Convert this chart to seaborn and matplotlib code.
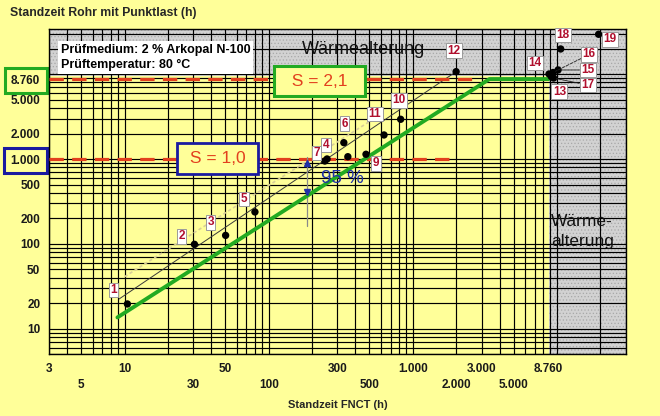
import numpy as np
import pandas as pd
import matplotlib
matplotlib.use("Agg")
import matplotlib.pyplot as plt
import seaborn as sns
from matplotlib.ticker import LogLocator, NullFormatter

# ---------------- data ----------------
point_ids = [str(i) for i in range(1, 20)]
fnct_h = [10.45, 30.5, 50.2, 254, 80.2, 332, 245, 354, 473, 823, 631, 1997,
          9150, 8810, 10180, 9400, 9480, 10620, 19460]
rohr_h = [19.6, 98.9, 126, 1002, 238, 1560, 948, 1066, 1138, 2942, 1922, 10710,
          9350, 10050, 11210, 10470, 9010, 19820, 29530]
label_shown = [True, True, True, True, True, True, True, False, True, True, True, True,
               True, True, True, True, True, True, True]

green_x = [8.91, 3400, 8760]
green_y = [13.6, 8760, 8760]
reg_x = [9.14, 1997]
reg_y = [22.4, 10710]
pale_x = [10.0, 494]
pale_y = [41.1, 2730]
s10_x = [3, 1885]
s10_y = [1000, 1000]
s21_x = [3, 2900]
s21_y = [8760, 8760]
ci_x = [185, 185]
ci_y = [163, 1066]

x_ticks = [3, 5, 10, 30, 50, 100, 300, 500, 1000, 2000, 3000, 5000, 8760]
x_ticklabels = ["3", "5", "10", "30", "50", "100", "300", "500",
                "1.000", "2.000", "3.000", "5.000", "8.760"]
x_row = [0, 1, 0, 1, 0, 1, 0, 1, 0, 1, 0, 1, 0]
y_ticks = [10, 20, 50, 100, 200, 500, 1000, 2000, 5000, 8760]
y_ticklabels = ["10", "20", "50", "100", "200", "500", "1.000", "2.000", "5.000", "8.760"]

x_min, x_max = 3, 30000
y_min, y_max = 5, 33800
aging_h = 8760
aging_top = 9600

# label offsets (px) of the number boxes relative to their dots
label_off = {"1": (-14, 14), "2": (-13, 8), "3": (-15, 13), "4": (-1, 14), "5": (-11, 13),
             "6": (1, 19), "7": (-8, 8), "9": (10, -9), "10": (-2, 19), "11": (-9, 21),
             "12": (-2, 21), "13": (8, -15), "14": (-14, 11), "15": (30, 0), "16": (36, 18),
             "17": (34, -7), "18": (2, 14), "19": (11, -5)}
leader = {"15": "-", "16": "--", "17": "-"}

# ---------------- style ----------------
sns.set_style("white")
plt.rcParams['font.family'] = ['Liberation Sans', 'DejaVu Sans']
plt.rcParams['hatch.linewidth'] = 0.5

YELLOW = '#FFFF99'
GREEN = '#22AA22'
RED = '#E2401E'
BLUE = '#2030A8'
NUMRED = '#B0102E'
GRAY = '#d2d2d2'
HATCH = '#a8a8a8'

fig = plt.figure(figsize=(6.6, 4.16), dpi=100, facecolor=YELLOW)
ax = fig.add_axes([0.0747, 0.1483, 0.8733, 0.78125])
ax.set_facecolor(YELLOW)
ax.set_xscale('log')
ax.set_yscale('log')
ax.set_xlim(x_min, x_max)
ax.set_ylim(y_min, y_max)

# gray "Wärmealterung" regions
ax.axvspan(aging_h, x_max, facecolor=GRAY, edgecolor=HATCH, hatch='.....',
           linewidth=0, zorder=0.5)
ax.fill_between([x_min, aging_h], aging_top, y_max, facecolor=GRAY,
                edgecolor=HATCH, hatch='.....', linewidth=0, zorder=0.5)

# grid
loc = dict(base=10, subs=np.arange(1, 10), numticks=100)
ax.set_xticks(x_ticks, x_ticklabels)
ax.set_yticks(y_ticks, y_ticklabels)
ax.xaxis.set_minor_locator(LogLocator(**loc))
ax.yaxis.set_minor_locator(LogLocator(**loc))
ax.xaxis.set_minor_formatter(NullFormatter())
ax.yaxis.set_minor_formatter(NullFormatter())
ax.xaxis.remove_overlapping_locs = False
ax.yaxis.remove_overlapping_locs = False
ax.grid(which='minor', color='black', linewidth=0.85, zorder=1)
ax.grid(which='major', visible=False)

ax.tick_params(which='both', length=0)
ax.tick_params(axis='both', which='major', labelsize=8.5, labelcolor='#1a1a1a')
for lab in ax.get_xticklabels() + ax.get_yticklabels():
    lab.set_fontweight('bold')
ax.tick_params(axis='y', which='major', pad=6.5)
for t, row in zip(ax.xaxis.get_major_ticks(), x_row):
    t.set_pad(6.5 + 11.5 * row)
for lab, val in zip(ax.get_yticklabels(), y_ticks):
    if val == 8760:
        lab.set_bbox(dict(boxstyle='square,pad=0.55', fc=YELLOW, ec=GREEN, lw=2.2))
    elif val == 1000:
        lab.set_bbox(dict(boxstyle='square,pad=0.55', fc=YELLOW, ec='#1a1aa0', lw=2.2))

for sp in ax.spines.values():
    sp.set_color('black')
    sp.set_linewidth(1.0)

# lines
sns.lineplot(x=pale_x, y=pale_y, ax=ax, color='#d9cf98', lw=1.2, linestyle=(0, (2, 1.5)),
             sort=False, estimator=None, zorder=2)
sns.lineplot(x=reg_x, y=reg_y, ax=ax, color='#3a3a3a', lw=0.7, sort=False,
             estimator=None, zorder=2.5)
sns.lineplot(x=s10_x, y=s10_y, ax=ax, color=RED, lw=2.3, linestyle=(0, (4.5, 2.6)),
             sort=False, estimator=None, zorder=3)
sns.lineplot(x=s21_x, y=s21_y, ax=ax, color=RED, lw=2.3, linestyle=(0, (4.5, 2.6)),
             sort=False, estimator=None, zorder=3)
sns.lineplot(x=green_x, y=green_y, ax=ax, color=GREEN, lw=2.8, sort=False,
             estimator=None, zorder=4)

# 95 % bracket
sns.lineplot(x=ci_x, y=ci_y, ax=ax, color='#8a8a8a', lw=0.9, sort=False,
             estimator=None, zorder=3.5)
ax.plot([ci_x[0]], [891], marker='^', color=BLUE, ms=4.5, zorder=5)
ax.plot([ci_x[0]], [412], marker='v', color=BLUE, ms=4.5, zorder=5)
ax.text(323, 593, "95 %", color=BLUE, fontsize=13.5, ha='center', va='center', zorder=6)

# points
df = pd.DataFrame({"id": point_ids, "fnct": fnct_h, "rohr": rohr_h, "show": label_shown})
sns.scatterplot(data=df, x="fnct", y="rohr", ax=ax, color='black', s=28,
                edgecolor='none', zorder=7, legend=False)
for pid, xv, yv, show in zip(point_ids, fnct_h, rohr_h, label_shown):
    if not show:
        continue
    dx, dy = label_off[pid]
    kw = {}
    if pid in leader:
        kw['arrowprops'] = dict(arrowstyle='-', color='#222222', lw=0.6,
                                linestyle=leader[pid], shrinkA=0, shrinkB=2)
    ax.annotate(pid, xy=(xv, yv), xytext=(dx * 0.72, dy * 0.72), textcoords='offset points',
                ha='center', va='center', fontsize=8.5, fontweight='bold', color=NUMRED,
                bbox=dict(boxstyle='square,pad=0.12', fc='white', ec='#9a9a9a', lw=0.7),
                zorder=8, **kw)

# boxes with S values
ax.text(225, 8300, "  S = 2,1  ", color=RED, fontsize=12.5, ha='center', va='center',
        bbox=dict(boxstyle='square,pad=0.45', fc=YELLOW, ec=GREEN, lw=2.2), zorder=9)
ax.text(44, 1014, " S = 1,0 ", color=RED, fontsize=12.5, ha='center', va='center',
        bbox=dict(boxstyle='square,pad=0.45', fc=YELLOW, ec='#1a1aa0', lw=2.0), zorder=9)

# region texts
ax.text(457, 19300, "Wärmealterung", fontsize=13, ha='center', va='center',
        color='#111111', zorder=6)
ax.text(9100, 140, "Wärme-\nalterung", fontsize=12.5, ha='left', va='center',
        color='#111111', linespacing=1.4, zorder=6)

# info box
ax.text(0.0198, 0.9137, "Prüfmedium: 2 % Arkopal N-100\nPrüftemperatur: 80 °C",
        transform=ax.transAxes, fontsize=9, fontweight='bold', ha='left', va='center',
        linespacing=1.3, color='black',
        bbox=dict(boxstyle='square,pad=0.25', fc='white', ec='none'), zorder=9)

ax.set_xlabel("Standzeit FNCT (h)", fontsize=8, fontweight='bold', labelpad=6)
ax.set_ylabel("")
fig.text(10 / 660, 1 - 13.3 / 416, "Standzeit Rohr mit Punktlast (h)", fontsize=8.8,
         fontweight='bold', ha='left', va='center')

fig.savefig("out.png", dpi=100, facecolor=YELLOW)
